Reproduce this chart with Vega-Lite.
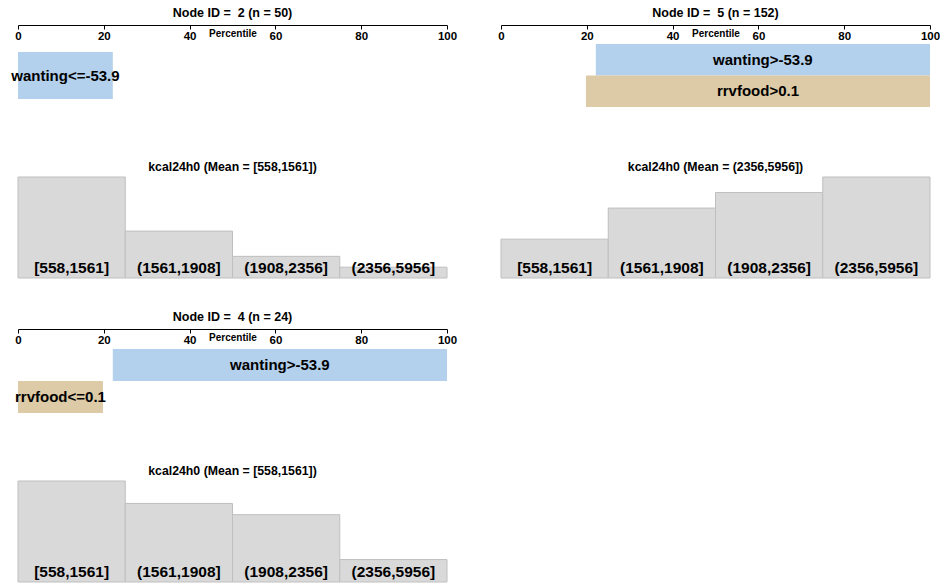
{
  "$schema": "https://vega.github.io/schema/vega-lite/v6.json",
  "padding": {"left": 11, "top": 7, "right": 0, "bottom": 0},
  "background": "#ffffff",
  "config": {
    "font": "Liberation Sans",
    "view": {"stroke": null},
    "title": {"fontSize": 12.5, "fontWeight": "bold", "color": "#000000", "anchor": "middle", "frame": "group"}
  },
  "datasets": {
    "splits": [
      {"node": 2, "row": 1, "var": "wanting", "label": "wanting<=-53.9", "pmin": 0, "pmax": 22.1},
      {"node": 5, "row": 1, "var": "wanting", "label": "wanting>-53.9", "pmin": 22.1, "pmax": 100},
      {"node": 5, "row": 2, "var": "rrvfood", "label": "rrvfood>0.1", "pmin": 19.8, "pmax": 100},
      {"node": 4, "row": 1, "var": "wanting", "label": "wanting>-53.9", "pmin": 22.1, "pmax": 100},
      {"node": 4, "row": 2, "var": "rrvfood", "label": "rrvfood<=0.1", "pmin": 0, "pmax": 19.8}
    ],
    "hist": [
      {"node": 2, "bin": "[558,1561]", "count": 28},
      {"node": 2, "bin": "(1561,1908]", "count": 13},
      {"node": 2, "bin": "(1908,2356]", "count": 6},
      {"node": 2, "bin": "(2356,5956]", "count": 3},
      {"node": 5, "bin": "[558,1561]", "count": 20},
      {"node": 5, "bin": "(1561,1908]", "count": 36},
      {"node": 5, "bin": "(1908,2356]", "count": 44},
      {"node": 5, "bin": "(2356,5956]", "count": 52},
      {"node": 4, "bin": "[558,1561]", "count": 9},
      {"node": 4, "bin": "(1561,1908]", "count": 7},
      {"node": 4, "bin": "(1908,2356]", "count": 6},
      {"node": 4, "bin": "(2356,5956]", "count": 2}
    ]
  },
  "bounds": "flush",
  "columns": 2,
  "spacing": {"row": 51, "column": 54},
  "concat": [
    {
      "width": 429, "height": 101,
      "title": {"text": "Node ID = \u00a02 (n = 50)", "offset": 5},
      "data": {"name": "splits"},
      "transform": [{"filter": "datum.node == 2"}],
      "layer": [
        {
          "mark": {"type": "rect"},
          "encoding": {
            "x": {"field": "pmin", "type": "quantitative", "title": "Percentile",
              "scale": {"domain": [0, 100], "nice": false, "zero": false},
              "axis": {"orient": "bottom", "offset": -101, "values": [0, 20, 40, 60, 80, 100], "grid": false,
                "domainColor": "#000000", "domainWidth": 1, "tickColor": "#000000", "tickSize": 4, "tickWidth": 1,
                "labelFontSize": 11.5, "labelFontWeight": "bold", "labelColor": "#000000", "labelPadding": 1, "labelFlush": false, "labelOverlap": false,
                "titleFontSize": 10, "titleFontWeight": "bold", "titleColor": "#000000", "titleY": 3, "titleBaseline": "top"}},
            "x2": {"field": "pmax"},
            "y": {"field": "row", "type": "ordinal", "scale": {"paddingInner": 0, "paddingOuter": 0.574, "align": 0.5}, "axis": null},
            "color": {"field": "var", "type": "nominal", "scale": {"domain": ["wanting", "rrvfood"], "range": ["#b3d0ec", "#dccba6"]}, "legend": null}
          }
        },
        {
          "transform": [{"fold": ["pmin", "pmax"], "as": ["end", "pos"]}],
          "mark": {"type": "text", "fontSize": 15, "fontWeight": "bold", "color": "#000000", "baseline": "middle"},
          "encoding": {
            "x": {"aggregate": "mean", "field": "pos", "type": "quantitative", "title": "Percentile"},
            "y": {"field": "row", "type": "ordinal"},
            "text": {"field": "label"}
          }
        }
      ]
    },
    {
      "width": 429, "height": 101,
      "title": {"text": "Node ID = \u00a05 (n = 152)", "offset": 5},
      "data": {"name": "splits"},
      "transform": [{"filter": "datum.node == 5"}],
      "layer": [
        {
          "mark": {"type": "rect"},
          "encoding": {
            "x": {"field": "pmin", "type": "quantitative", "title": "Percentile",
              "scale": {"domain": [0, 100], "nice": false, "zero": false},
              "axis": {"orient": "bottom", "offset": -101, "values": [0, 20, 40, 60, 80, 100], "grid": false,
                "domainColor": "#000000", "domainWidth": 1, "tickColor": "#000000", "tickSize": 4, "tickWidth": 1,
                "labelFontSize": 11.5, "labelFontWeight": "bold", "labelColor": "#000000", "labelPadding": 1, "labelFlush": false, "labelOverlap": false,
                "titleFontSize": 10, "titleFontWeight": "bold", "titleColor": "#000000", "titleY": 3, "titleBaseline": "top"}},
            "x2": {"field": "pmax"},
            "y": {"field": "row", "type": "ordinal", "scale": {"paddingInner": 0, "paddingOuter": 0.603, "align": 0.5}, "axis": null},
            "color": {"field": "var", "type": "nominal", "scale": {"domain": ["wanting", "rrvfood"], "range": ["#b3d0ec", "#dccba6"]}, "legend": null}
          }
        },
        {
          "transform": [{"fold": ["pmin", "pmax"], "as": ["end", "pos"]}],
          "mark": {"type": "text", "fontSize": 15, "fontWeight": "bold", "color": "#000000", "baseline": "middle"},
          "encoding": {
            "x": {"aggregate": "mean", "field": "pos", "type": "quantitative", "title": "Percentile"},
            "y": {"field": "row", "type": "ordinal"},
            "text": {"field": "label"}
          }
        }
      ]
    },
    {
      "width": 429, "height": 101,
      "title": {"text": "kcal24h0 (Mean = [558,1561])", "offset": 3, "fontSize": 12.3},
      "data": {"name": "hist"},
      "transform": [{"filter": "datum.node == 2"}],
      "layer": [
        {
          "mark": {"type": "bar", "fill": "#d9d9d9", "stroke": "#bfbfbf", "strokeWidth": 1},
          "encoding": {
            "x": {"field": "bin", "type": "ordinal", "scale": {"domain": ["[558,1561]", "(1561,1908]", "(1908,2356]", "(2356,5956]"], "paddingInner": 0, "paddingOuter": 0}, "axis": null},
            "y": {"field": "count", "type": "quantitative", "scale": {"nice": false, "zero": true}, "axis": null}
          }
        },
        {
          "mark": {"type": "text", "fontSize": 15.5, "fontWeight": "bold", "color": "#000000", "baseline": "alphabetic", "dy": -5},
          "encoding": {
            "x": {"field": "bin", "type": "ordinal"},
            "y": {"datum": 0, "type": "quantitative"},
            "text": {"field": "bin"}
          }
        }
      ]
    },
    {
      "width": 429, "height": 101,
      "title": {"text": "kcal24h0 (Mean = (2356,5956])", "offset": 3, "fontSize": 12.3},
      "data": {"name": "hist"},
      "transform": [{"filter": "datum.node == 5"}],
      "layer": [
        {
          "mark": {"type": "bar", "fill": "#d9d9d9", "stroke": "#bfbfbf", "strokeWidth": 1},
          "encoding": {
            "x": {"field": "bin", "type": "ordinal", "scale": {"domain": ["[558,1561]", "(1561,1908]", "(1908,2356]", "(2356,5956]"], "paddingInner": 0, "paddingOuter": 0}, "axis": null},
            "y": {"field": "count", "type": "quantitative", "scale": {"nice": false, "zero": true}, "axis": null}
          }
        },
        {
          "mark": {"type": "text", "fontSize": 15.5, "fontWeight": "bold", "color": "#000000", "baseline": "alphabetic", "dy": -5},
          "encoding": {
            "x": {"field": "bin", "type": "ordinal"},
            "y": {"datum": 0, "type": "quantitative"},
            "text": {"field": "bin"}
          }
        }
      ]
    },
    {
      "width": 429, "height": 101,
      "title": {"text": "Node ID = \u00a04 (n = 24)", "offset": 5},
      "data": {"name": "splits"},
      "transform": [{"filter": "datum.node == 4"}],
      "layer": [
        {
          "mark": {"type": "rect"},
          "encoding": {
            "x": {"field": "pmin", "type": "quantitative", "title": "Percentile",
              "scale": {"domain": [0, 100], "nice": false, "zero": false},
              "axis": {"orient": "bottom", "offset": -101, "values": [0, 20, 40, 60, 80, 100], "grid": false,
                "domainColor": "#000000", "domainWidth": 1, "tickColor": "#000000", "tickSize": 4, "tickWidth": 1,
                "labelFontSize": 11.5, "labelFontWeight": "bold", "labelColor": "#000000", "labelPadding": 1, "labelFlush": false, "labelOverlap": false,
                "titleFontSize": 10, "titleFontWeight": "bold", "titleColor": "#000000", "titleY": 3, "titleBaseline": "top"}},
            "x2": {"field": "pmax"},
            "y": {"field": "row", "type": "ordinal", "scale": {"paddingInner": 0, "paddingOuter": 0.578, "align": 0.54}, "axis": null},
            "color": {"field": "var", "type": "nominal", "scale": {"domain": ["wanting", "rrvfood"], "range": ["#b3d0ec", "#dccba6"]}, "legend": null}
          }
        },
        {
          "transform": [{"fold": ["pmin", "pmax"], "as": ["end", "pos"]}],
          "mark": {"type": "text", "fontSize": 15, "fontWeight": "bold", "color": "#000000", "baseline": "middle"},
          "encoding": {
            "x": {"aggregate": "mean", "field": "pos", "type": "quantitative", "title": "Percentile"},
            "y": {"field": "row", "type": "ordinal"},
            "text": {"field": "label"}
          }
        }
      ]
    },
    {
      "width": 429, "height": 101,
      "data": {"values": []},
      "mark": {"type": "text"},
      "encoding": {}
    },
    {
      "width": 429, "height": 101,
      "title": {"text": "kcal24h0 (Mean = [558,1561])", "offset": 3, "fontSize": 12.3},
      "data": {"name": "hist"},
      "transform": [{"filter": "datum.node == 4"}],
      "layer": [
        {
          "mark": {"type": "bar", "fill": "#d9d9d9", "stroke": "#bfbfbf", "strokeWidth": 1},
          "encoding": {
            "x": {"field": "bin", "type": "ordinal", "scale": {"domain": ["[558,1561]", "(1561,1908]", "(1908,2356]", "(2356,5956]"], "paddingInner": 0, "paddingOuter": 0}, "axis": null},
            "y": {"field": "count", "type": "quantitative", "scale": {"nice": false, "zero": true}, "axis": null}
          }
        },
        {
          "mark": {"type": "text", "fontSize": 15.5, "fontWeight": "bold", "color": "#000000", "baseline": "alphabetic", "dy": -5},
          "encoding": {
            "x": {"field": "bin", "type": "ordinal"},
            "y": {"datum": 0, "type": "quantitative"},
            "text": {"field": "bin"}
          }
        }
      ]
    }
  ]
}
